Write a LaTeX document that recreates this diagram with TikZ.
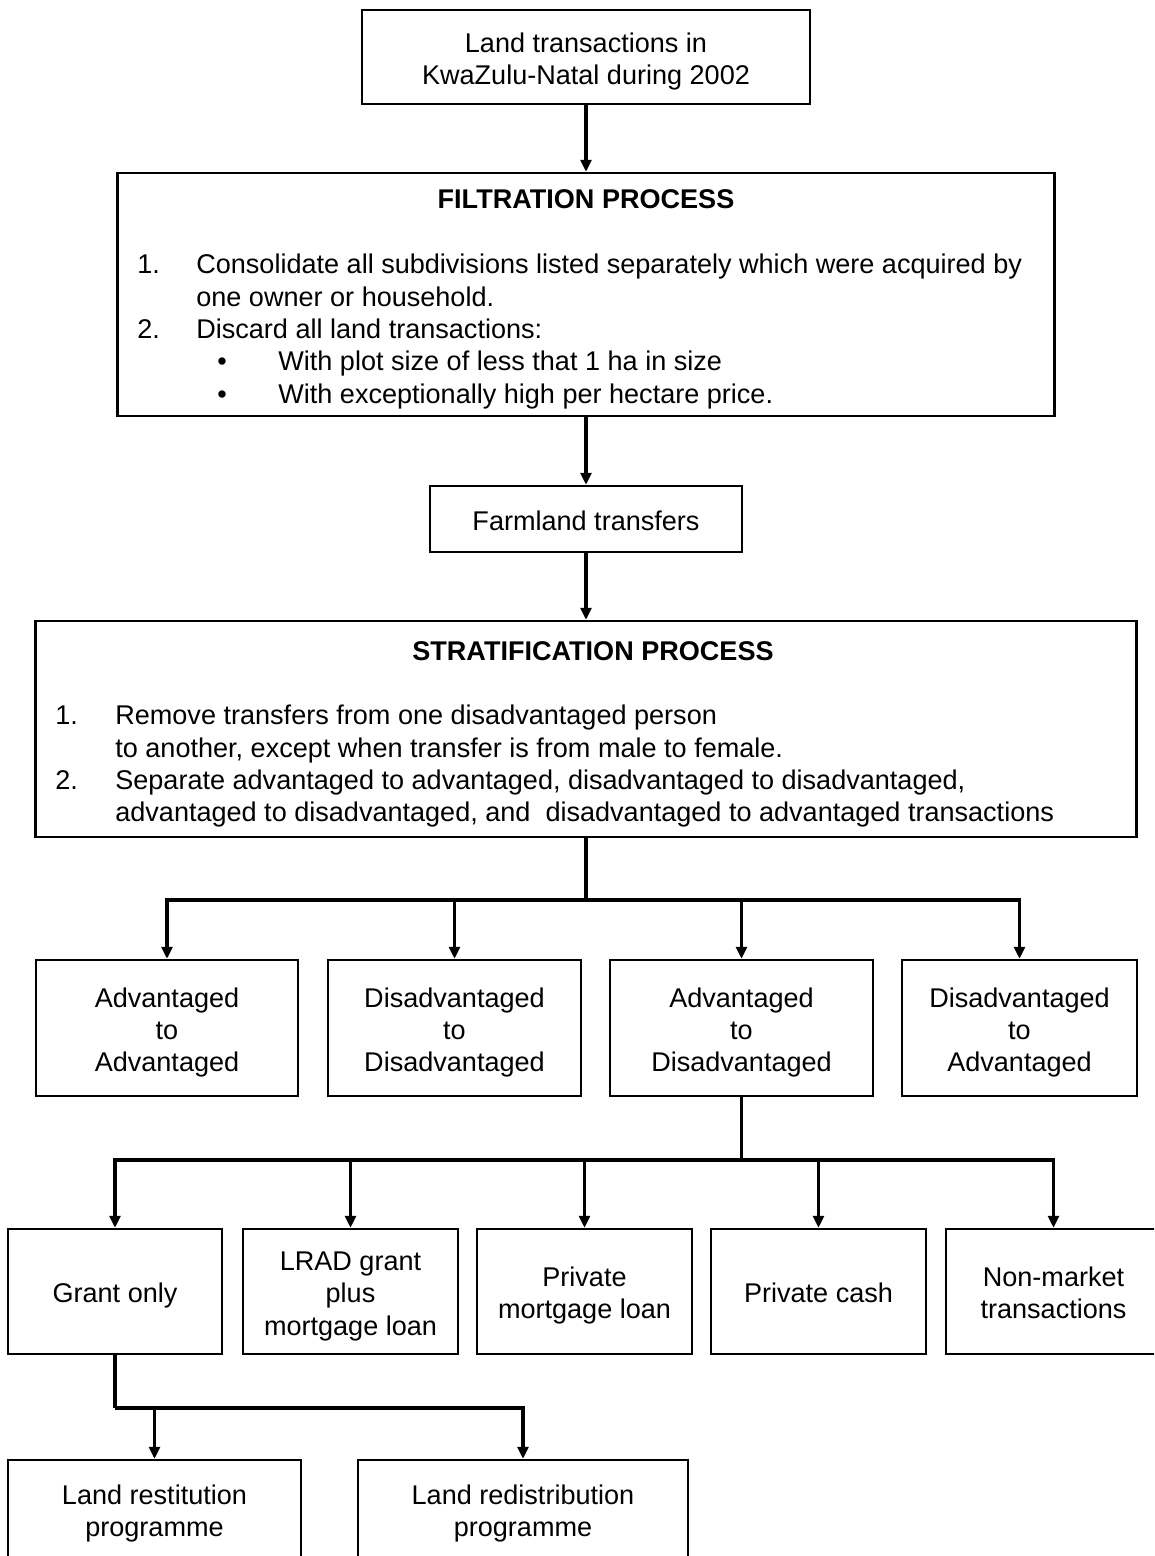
\documentclass[tikz,border=0pt]{standalone}
\usepackage{fontspec}
\setmainfont{Liberation Sans}
\usetikzlibrary{arrows.meta}
\newlength{\du}
\setlength{\du}{0.02cm}
\definecolor{dialinecolor}{rgb}{0.000000, 0.000000, 0.000000}
\newcommand{\flowlines}[1]{\begin{tabular}[b]{@{}c@{}}#1\end{tabular}}
\tikzset{
  flowbox/.style={draw=dialinecolor, line width=2.5\du, inner sep=0pt, text depth=-0.4pt,
    font=\fontsize{15.4}{18.4}\selectfont},
  flowtext/.style={inner sep=0pt, font=\fontsize{15.4}{18.4}\selectfont},
  flowtitle/.style={inner sep=0pt, anchor=base, font=\fontsize{15.4}{18.4}\selectfont\bfseries},
  flowline/.style={draw=dialinecolor, line width=3.5\du},
  flowarrow/.style={flowline, -{Triangle[width=0.22cm,length=0.24cm]}},
}
\begin{document}
\begin{tikzpicture}
\pgftransformxscale{1.000000}
\pgftransformyscale{-1.000000}
\useasboundingbox (0\du,0\du) rectangle (1154\du,1556\du);
\clip (0\du,0\du) rectangle (1154\du,1556\du);
% top of the chart
\node[flowbox, minimum width=448\du, minimum height=94\du] (landtx) at (586\du,57\du)
  {\flowlines{Land transactions in\\KwaZulu-Natal during 2002}};
% filtration
\node[flowbox, minimum width=937\du, minimum height=243\du] (filtbox) at (586\du,294.5\du) {};
\node[flowtitle] (filttitle) at (586\du,208\du) {FILTRATION PROCESS};
\node[flowtext, anchor=north west] (filtlist) at (137\du,251\du)
  {\begin{tabular}{@{}p{59\du}@{}l@{}}
  1. & Consolidate all subdivisions listed separately which were acquired by\\
     & one owner or household.\\
  2. & Discard all land transactions:\\
     & \makebox[82\du][l]{\hspace{21\du}\textbullet}With plot size of less that 1 ha in size\\
     & \makebox[82\du][l]{\hspace{21\du}\textbullet}With exceptionally high per hectare price.
  \end{tabular}};
\node[flowbox, minimum width=312\du, minimum height=66\du] (farmland) at (586\du,519\du)
  {\flowlines{Farmland transfers}};
% stratification
\node[flowbox, minimum width=1101\du, minimum height=216\du] (stratbox) at (586\du,729\du) {};
\node[flowtitle] (strattitle) at (593\du,660\du) {STRATIFICATION PROCESS};
\node[flowtext, anchor=north west] (stratlist) at (55\du,702\du)
  {\begin{tabular}{@{}p{60\du}@{}l@{}}
  1. & Remove transfers from one disadvantaged person\\
     & to another, except when transfer is from male to female.\\
  2. & Separate advantaged to advantaged, disadvantaged to disadvantaged,\\
     & advantaged to disadvantaged, and~ disadvantaged to advantaged transactions
  \end{tabular}};
\draw[flowarrow] (landtx.south) -- (filtbox.north);
\draw[flowarrow] (filtbox.south) -- (farmland.north);
\draw[flowarrow] (farmland.south) -- (stratbox.north);
% four kinds of transfer
\node[flowbox, minimum width=262\du, minimum height=136\du] (advadv) at (167\du,1028\du)
  {\flowlines{Advantaged\\to\\Advantaged}};
\node[flowbox, minimum width=253\du, minimum height=136\du] (disdis) at (454.5\du,1028\du)
  {\flowlines{Disadvantaged\\to\\Disadvantaged}};
\node[flowbox, minimum width=263\du, minimum height=136\du] (advdis) at (741.5\du,1028\du)
  {\flowlines{Advantaged\\to\\Disadvantaged}};
\node[flowbox, minimum width=235\du, minimum height=136\du] (disadv) at (1019.5\du,1028\du)
  {\flowlines{Disadvantaged\\to\\Advantaged}};
\coordinate (stratsplit) at (586\du,900\du);
\draw[flowline] (stratbox.south) -- (stratsplit);
\draw[flowarrow] (stratsplit) -| (advadv.north);
\draw[flowarrow] (stratsplit) -| (disdis.north);
\draw[flowarrow] (stratsplit) -| (advdis.north);
\draw[flowarrow] (stratsplit) -| (disadv.north);
% means of finance
\node[flowbox, minimum width=214\du, minimum height=125\du] (grantonly) at (115\du,1291.5\du)
  {\flowlines{Grant only}};
\node[flowbox, minimum width=215\du, minimum height=125\du] (lradloan) at (350.5\du,1291.5\du)
  {\flowlines{LRAD grant\\plus\\mortgage loan}};
\node[flowbox, minimum width=215\du, minimum height=125\du] (privloan) at (584.5\du,1291.5\du)
  {\flowlines{Private\\mortgage loan}};
\node[flowbox, minimum width=215\du, minimum height=125\du] (privcash) at (818.5\du,1291.5\du)
  {\flowlines{Private cash}};
\node[flowbox, minimum width=215\du, minimum height=125\du] (nonmarket) at (1053.5\du,1291.5\du)
  {\flowlines{Non-market\\transactions}};
\coordinate (advsplit) at (741.5\du,1160\du);
\draw[flowline] (advdis.south) -- (advsplit);
\draw[flowarrow] (advsplit) -| (grantonly.north);
\draw[flowarrow] (advsplit) -| (lradloan.north);
\draw[flowarrow] (advsplit) -| (privloan.north);
\draw[flowarrow] (advsplit) -| (privcash.north);
\draw[flowarrow] (advsplit) -| (nonmarket.north);
% programmes
\node[flowbox, minimum width=293\du, minimum height=98\du] (restitution) at (154.5\du,1509\du)
  {\flowlines{Land restitution\\programme}};
\node[flowbox, minimum width=330\du, minimum height=98\du] (redistribution) at (523\du,1509\du)
  {\flowlines{Land redistribution\\programme}};
\coordinate (grantsplit) at (115\du,1408\du);
\draw[flowline] (grantonly.south) -- (grantsplit);
\draw[flowarrow] (grantsplit) -| (restitution.north);
\draw[flowarrow] (grantsplit) -| (redistribution.north);
\end{tikzpicture}
\end{document}
